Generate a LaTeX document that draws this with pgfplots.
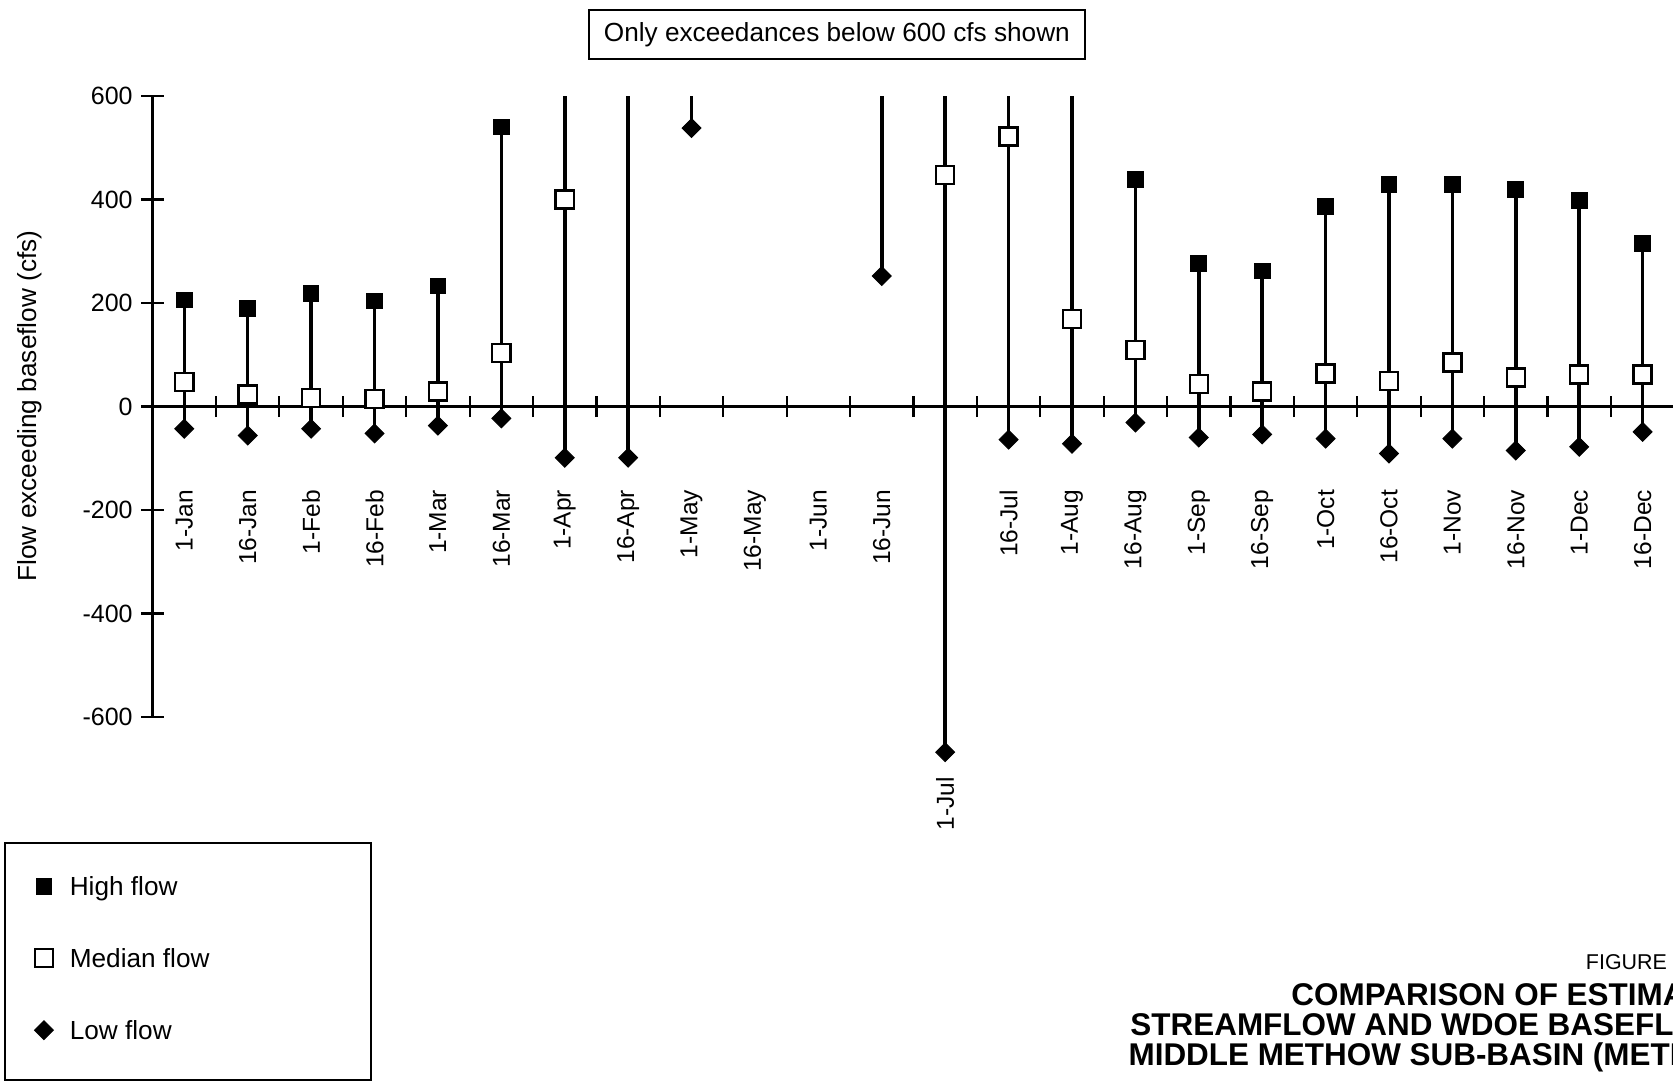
\documentclass[border=0pt]{standalone}
\usepackage{pgfplots}
\pgfplotsset{compat=1.18}
\usepackage{pgfplotstable}
\usepackage{fontspec}
\setmainfont{Liberation Sans}

\pgfplotstableread{
x high med low
0 206 47 -43
1 190 23 -56
2 219 16 -43
3 204 14 -52
4 233 29 -37
5 540 103 -23
6 nan 400 -99
7 nan nan -99
8 nan nan 538
9 nan nan nan
10 nan nan nan
11 nan nan 252
12 nan 447 -668
13 nan 522 -64
14 nan 169 -72
15 439 109 -31
16 276 43 -60
17 262 29 -54
18 386 64 -62
19 429 49 -91
20 429 85 -62
21 419 56 -85
22 398 62 -78
23 315 62 -49
}\flows

\pgfplotstableread{
x y
0 -43
0 206
0 nan
1 -56
1 190
1 nan
2 -43
2 219
2 nan
3 -52
3 204
3 nan
4 -37
4 233
4 nan
5 -23
5 540
5 nan
6 -99
6 600
6 nan
7 -99
7 600
7 nan
8 538
8 600
8 nan
11 252
11 600
11 nan
12 -668
12 600
12 nan
13 -64
13 600
13 nan
14 -72
14 600
14 nan
15 -31
15 439
15 nan
16 -60
16 276
16 nan
17 -54
17 262
17 nan
18 -62
18 386
18 nan
19 -91
19 429
19 nan
20 -62
20 429
20 nan
21 -85
21 419
21 nan
22 -78
22 398
22 nan
23 -49
23 315
}\ranges

\begin{document}
\begin{tikzpicture}
\begin{axis}[
  at={(64.09pt,152.88pt)}, anchor=south west,
  x=26.63pt, y=0.21735pt,
  xmin=-0.5, xmax=23.5, ymin=-600, ymax=600,
  axis x line*=middle, axis y line*=left,
  axis line style={line width=1pt, black},
  clip=false,
  ytick={-600,-400,-200,0,200,400,600},
  yticklabels={-600,-400,-200,0,200,400,600},
  xtick={0,...,23},
  xticklabels={1-Jan,16-Jan,1-Feb,16-Feb,1-Mar,16-Mar,1-Apr,16-Apr,1-May,16-May,1-Jun,16-Jun,{},16-Jul,1-Aug,16-Aug,1-Sep,16-Sep,1-Oct,16-Oct,1-Nov,16-Nov,1-Dec,16-Dec},
  minor xtick={0.5,1.5,...,23.5},
  major x tick style={draw=none},
  tick align=center,
  major tick length=9.7pt, minor tick length=9pt,
  every tick/.style={line width=0.9pt, black},
  minor tick style={line width=0.9pt, black},
  yticklabel style={font=\fontsize{10.5}{12}\selectfont, anchor=east},
  xticklabel style={font=\fontsize{10.3}{12}\selectfont, rotate=90, anchor=east, inner sep=0pt},
  xticklabel shift=30pt,
  legend style={at={(-0.0779,-0.2566)}, anchor=north west, draw=none, fill=none,
    inner sep=0pt, font=\fontsize{11}{13}\selectfont, row sep=19.7pt, column sep=6.9pt,
    nodes={inner sep=0pt, text height=8pt, text depth=2.5pt}},
  legend cell align=left,
  legend image code/.code={\draw[#1] plot coordinates {(0pt,1.25pt)};},
]
\addplot[black, line width=1.5pt, mark=none, unbounded coords=jump, forget plot] table[x=x, y=y] {\ranges};
\addplot[only marks, mark=square*, mark size=3.3pt, mark options={fill=black, draw=black}] table[x=x, y=high] {\flows};
\addlegendentry{High flow}
\addplot[only marks, mark=square*, mark size=3.8pt, mark options={fill=white, draw=black, line width=1pt}] table[x=x, y=med] {\flows};
\addlegendentry{Median flow}
\addplot[only marks, mark=square*, mark size=2.8pt, mark options={fill=black, draw=black, rotate=45}] table[x=x, y=low] {\flows};
\addlegendentry{Low flow}
\node[rotate=90, anchor=east, inner sep=0pt, font=\fontsize{10.3}{12}\selectfont] at (axis cs:12,-715) {1-Jul};
\end{axis}
\node[rotate=90, font=\fontsize{11}{13}\selectfont] at (12.6pt,283.5pt) {Flow exceeding baseflow (cfs)};
\node[draw, line width=0.8pt, minimum width=208.3pt, minimum height=20.6pt, inner sep=0pt, font=\fontsize{11}{13}\selectfont] at (351.5pt,439.5pt) {Only exceedances below 600 cfs shown};
\draw[line width=0.8pt] (2.23pt,99.96pt) rectangle (155.9pt,0.6pt);
\node[anchor=base west, inner sep=0pt, font=\fontsize{9}{11}\selectfont] at (665.9pt,46.8pt) {FIGURE 4};
\node[anchor=base west, inner sep=0pt, font=\fontsize{13.2}{15}\selectfont\bfseries] at (542.2pt,31.9pt) {COMPARISON OF ESTIMATED};
\node[anchor=base west, inner sep=0pt, font=\fontsize{13.2}{15}\selectfont\bfseries] at (474.6pt,19.3pt) {STREAMFLOW AND WDOE BASEFLOWS};
\node[anchor=base west, inner sep=0pt, font=\fontsize{13.2}{15}\selectfont\bfseries] at (473.8pt,6.7pt) {MIDDLE METHOW SUB-BASIN (METHOW RIVER)};
\pgfresetboundingbox
\path[use as bounding box] (0,0) rectangle (702.66pt,454.02pt);
\end{tikzpicture}
\end{document}
